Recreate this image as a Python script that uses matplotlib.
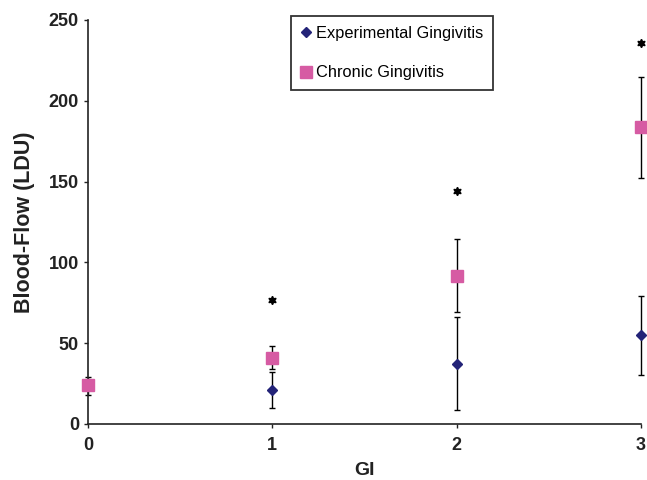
import matplotlib
matplotlib.use("Agg")
import matplotlib.pyplot as plt

plt.rcParams['font.family'] = ['Liberation Sans', 'DejaVu Sans']

gi = [0, 1, 2, 3]
exp_gi = [1, 2, 3]
exp_mean = [21, 37, 55]
exp_lo = [10, 8.5, 30.5]
exp_hi = [32, 66, 79]
chr_mean = [24, 41, 91.5, 183.5]
chr_lo = [18, 34, 69.5, 152.5]
chr_hi = [29, 48, 114.5, 215]
star_gi = [1, 2, 3]
star_y = [77, 144, 236]

navy = '#232378'
pink = '#D65BA3'

fig = plt.figure(figsize=(6.47, 4.8), dpi=100)
ax = fig.add_axes([88/647, 56/480, (641-88)/647, (424-20)/480])

c1 = ax.errorbar(gi, chr_mean,
                 yerr=[[m - l for m, l in zip(chr_mean, chr_lo)], [h - m for m, h in zip(chr_mean, chr_hi)]],
                 fmt='none', ecolor='black', elinewidth=1, capsize=2, capthick=1, zorder=2)
c2 = ax.errorbar(exp_gi, exp_mean,
                 yerr=[[m - l for m, l in zip(exp_mean, exp_lo)], [h - m for m, h in zip(exp_mean, exp_hi)]],
                 fmt='none', ecolor='black', elinewidth=1, capsize=2, capthick=1, zorder=2)
for c in (c1, c2):
    for ch in c.get_children():
        ch.set_clip_on(False)
ax.plot(exp_gi, exp_mean, linestyle='none', marker='D', markersize=5.5,
        color=navy, label='Experimental Gingivitis', zorder=3, clip_on=False)
ax.plot(gi, chr_mean, linestyle='none', marker='s', markersize=8.5,
        color=pink, label='Chronic Gingivitis', zorder=3, clip_on=False)
ax.plot(star_gi, star_y, linestyle='none', marker=(6, 1, 0), markersize=6,
        color='black', zorder=3, clip_on=False)

ax.set_xlim(0, 3)
ax.set_ylim(0, 250)
ax.set_xticks([0, 1, 2, 3])
ax.set_yticks([0, 50, 100, 150, 200, 250])
ax.spines['top'].set_visible(False)
ax.spines['right'].set_visible(False)
for s in ('left', 'bottom'):
    ax.spines[s].set_linewidth(1.2)
    ax.spines[s].set_color('#222222')
ax.tick_params(axis='both', labelsize=13, length=3, width=1, color='#222222')
ax.tick_params(axis='x', pad=6)
for lab in ax.get_xticklabels() + ax.get_yticklabels():
    lab.set_fontweight('bold')
    lab.set_color('#222222')
ax.set_xlabel('GI', fontsize=14, fontweight='bold', color='#222222', labelpad=6)
ax.set_ylabel('Blood-Flow (LDU)', fontsize=15.5, fontweight='bold', color='#222222', labelpad=10)

leg = ax.legend(loc='upper left', bbox_to_anchor=((291-88)/(641-88), (424-16)/(424-20)),
                fontsize=11.8, frameon=True, fancybox=False, edgecolor='black',
                handlelength=0.6, handletextpad=0.3, labelspacing=1.5,
                borderpad=0.6, borderaxespad=0, markerscale=1.0)
leg.get_frame().set_linewidth(1.3)

fig.savefig('out.png', dpi=100)
